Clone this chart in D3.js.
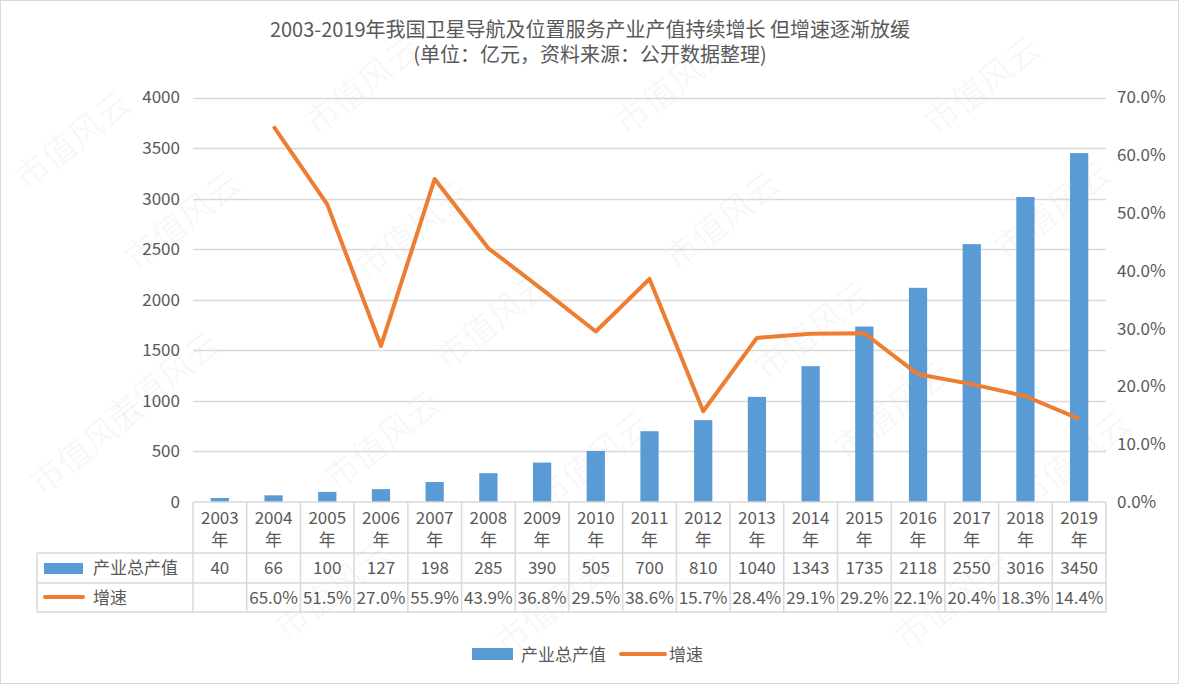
<!DOCTYPE html>
<html>
<head>
<meta charset="utf-8">
<script src="https://cdn.jsdelivr.net/npm/d3@7"></script>
<style>
  body { margin: 0; background: #fff; }
  text { font-family: "Noto Sans CJK SC", "Noto Sans", sans-serif; fill: #595959; }
</style>
</head>
<body>
<div id="chart"></div>
<script>
// data
var years = ["2003","2004","2005","2006","2007","2008","2009","2010","2011","2012","2013","2014","2015","2016","2017","2018","2019"];
var output = [40, 66, 100, 127, 198, 285, 390, 505, 700, 810, 1040, 1343, 1735, 2118, 2550, 3016, 3450];
var growth = [null, 65.0, 51.5, 27.0, 55.9, 43.9, 36.8, 29.5, 38.6, 15.7, 28.4, 29.1, 29.2, 22.1, 20.4, 18.3, 14.4];
var leftTicks = [0, 500, 1000, 1500, 2000, 2500, 3000, 3500, 4000];
var rightTicks = [0, 10, 20, 30, 40, 50, 60, 70];
var seriesNames = ["产业总产值", "增速"];

var W = 1182, H = 686;
var plotLeft = 193, plotRight = 1106, plotTop = 97.5, plotBottom = 502;
var blue = "#5B9BD5", orange = "#ED7D31", grid = "#D9D9D9";

var svg = d3.select("#chart").append("svg")
  .attr("width", W).attr("height", H);

// outer border
svg.append("rect")
  .attr("x", 0.5).attr("y", 0.5).attr("width", W - 4).attr("height", H - 3)
  .attr("fill", "#fff").attr("stroke", grid);

// watermark (drawn first, faint)
var marks = [[80,150],[190,230],[370,95],[680,95],[990,95],[420,240],[730,230],[1060,220],
             [170,390],[500,330],[820,340],[95,455],[390,450],[600,470],[900,420],[1080,470],
             [340,600],[560,615],[960,610]];
svg.append("g").selectAll("text").data(marks).join("text")
  .attr("transform", function(d) { return "translate(" + d[0] + "," + d[1] + ") rotate(-38)"; })
  .attr("text-anchor", "middle")
  .style("font-size", "34px").style("fill", "#000").style("fill-opacity", 0.04)
  .text("市值风云");

// scales
var x = d3.scaleBand().domain(years).range([plotLeft, plotRight]);
var y = d3.scaleLinear().domain([0, 4000]).range([plotBottom, plotTop]);
var y2 = d3.scaleLinear().domain([0, 70]).range([plotBottom, plotTop]);

// title
svg.append("text").attr("x", 590).attr("y", 37).attr("text-anchor", "middle")
  .style("font-size", "20px")
  .text("2003-2019年我国卫星导航及位置服务产业产值持续增长 但增速逐渐放缓");
svg.append("text").attr("x", 590).attr("y", 62).attr("text-anchor", "middle")
  .style("font-size", "20px")
  .text("(单位：亿元，资料来源：公开数据整理)");

// gridlines
svg.append("g").selectAll("line").data(leftTicks.slice(1)).join("line")
  .attr("x1", plotLeft).attr("x2", plotRight)
  .attr("y1", function(d) { return Math.round(y(d)) + 0.5; })
  .attr("y2", function(d) { return Math.round(y(d)) + 0.5; })
  .attr("stroke", grid).attr("stroke-width", 1.5);

// left axis
var yAxis = svg.append("g")
  .attr("transform", "translate(" + plotLeft + ",0)")
  .call(d3.axisLeft(y).tickValues(leftTicks).tickSize(0).tickPadding(13)
    .tickFormat(d3.format("d")));
yAxis.select(".domain").remove();
yAxis.selectAll("text").style("font-size", "17px").attr("fill", "#595959")
  .style("font-family", "'Noto Sans CJK SC', sans-serif");

// right axis
var y2Axis = svg.append("g")
  .attr("transform", "translate(" + plotRight + ",0)")
  .call(d3.axisRight(y2).tickValues(rightTicks).tickSize(0).tickPadding(11)
    .tickFormat(function(d) { return d.toFixed(1) + "%"; }));
y2Axis.select(".domain").remove();
y2Axis.selectAll("text").style("font-size", "17px").attr("fill", "#595959")
  .style("font-family", "'Noto Sans CJK SC', sans-serif");

// bars
var bw = x.bandwidth() * 0.34;
svg.append("g").selectAll("rect").data(output).join("rect")
  .attr("x", function(d, i) { return x(years[i]) + (x.bandwidth() - bw) / 2; })
  .attr("y", function(d) { return y(d); })
  .attr("width", bw)
  .attr("height", function(d) { return y(0) - y(d); })
  .attr("fill", blue);

// growth line
var lineData = years.map(function(yr, i) { return {yr: yr, v: growth[i]}; })
  .filter(function(d) { return d.v !== null; });
svg.append("path")
  .datum(lineData)
  .attr("fill", "none")
  .attr("stroke", orange)
  .attr("stroke-width", 4)
  .attr("stroke-linejoin", "round")
  .attr("d", d3.line()
    .x(function(d) { return x(d.yr) + x.bandwidth() / 2; })
    .y(function(d) { return y2(d.v); }));

// data table
var tLeft = 37, row0 = plotBottom, row1 = 553, row2 = 583, row3 = 612;
var tg = svg.append("g");
var hl = [[plotLeft, row0], [tLeft, row1], [tLeft, row2], [tLeft, row3]];
hl.forEach(function(h) {
  tg.append("line").attr("x1", h[0]).attr("x2", plotRight)
    .attr("y1", h[1]).attr("y2", h[1]).attr("stroke", grid).attr("stroke-width", 1.5);
});
// vertical lines
var vx = years.map(function(d) { return x(d); }).concat([plotRight]);
tg.selectAll("line.v").data(vx).join("line").attr("class", "v")
  .attr("x1", function(d) { return d; }).attr("x2", function(d) { return d; })
  .attr("y1", row0).attr("y2", row3)
  .attr("stroke", grid).attr("stroke-width", 1.5);
tg.append("line").attr("x1", tLeft).attr("x2", tLeft).attr("y1", row1).attr("y2", row3)
  .attr("stroke", grid).attr("stroke-width", 1.5);

// header years (two lines per column)
tg.selectAll("text.hdr").data(years).join("text").attr("class", "hdr")
  .attr("x", function(d) { return x(d) + x.bandwidth() / 2; })
  .attr("y", 524).attr("text-anchor", "middle").style("font-size", "17px")
  .text(function(d) { return d; });
tg.selectAll("text.hdr2").data(years).join("text").attr("class", "hdr2")
  .attr("x", function(d) { return x(d) + x.bandwidth() / 2; })
  .attr("y", 546).attr("text-anchor", "middle").style("font-size", "17px")
  .text("年");

// value rows
tg.selectAll("text.val").data(output).join("text").attr("class", "val")
  .attr("x", function(d, i) { return x(years[i]) + x.bandwidth() / 2; })
  .attr("y", 574).attr("text-anchor", "middle").style("font-size", "17px")
  .text(function(d) { return d; });
tg.selectAll("text.gr").data(growth).join("text").attr("class", "gr")
  .attr("x", function(d, i) { return x(years[i]) + x.bandwidth() / 2; })
  .attr("y", 604).attr("text-anchor", "middle").style("font-size", "17px")
  .text(function(d) { return d === null ? "" : d.toFixed(1) + "%"; });

// row legend keys
tg.append("rect").attr("x", 44).attr("y", 563).attr("width", 39).attr("height", 11).attr("fill", blue);
tg.append("text").attr("x", 93).attr("y", 574).style("font-size", "17px").text(seriesNames[0]);
tg.append("line").attr("x1", 45).attr("x2", 83).attr("y1", 597).attr("y2", 597)
  .attr("stroke", orange).attr("stroke-width", 4).attr("stroke-linecap", "round");
tg.append("text").attr("x", 93).attr("y", 604).style("font-size", "17px").text(seriesNames[1]);

// bottom legend
var lg = svg.append("g");
lg.append("rect").attr("x", 472).attr("y", 648).attr("width", 41).attr("height", 12).attr("fill", blue);
lg.append("text").attr("x", 521).attr("y", 661).style("font-size", "17px").text(seriesNames[0]);
lg.append("line").attr("x1", 621).attr("x2", 665).attr("y1", 654).attr("y2", 654)
  .attr("stroke", orange).attr("stroke-width", 4).attr("stroke-linecap", "round");
lg.append("text").attr("x", 669).attr("y", 661).style("font-size", "17px").text(seriesNames[1]);
</script>
</body>
</html>
